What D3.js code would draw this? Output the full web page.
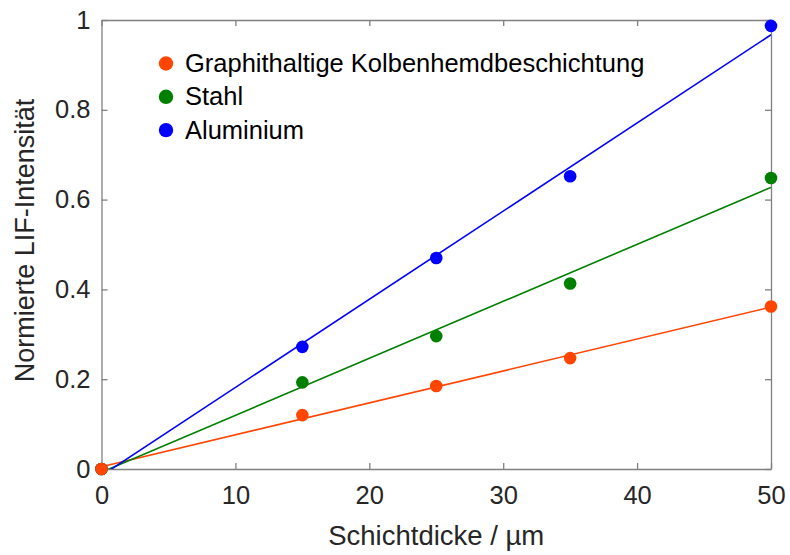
<!DOCTYPE html>
<html>
<head>
<meta charset="utf-8">
<script src="https://cdn.jsdelivr.net/npm/d3@7"></script>
<style>
  html, body { margin: 0; padding: 0; background: #fff; }
  svg { display: block; font-family: "Liberation Sans", Arial, Helvetica, sans-serif; }
</style>
</head>
<body>
<svg id="chart" width="790" height="555"></svg>
<script>
// Layer thickness (µm) and normalised LIF intensity per coating
const thickness = [0, 15, 25, 35, 50];
const graphitValues = [0, 0.120, 0.185, 0.247, 0.362];
const stahlValues = [0, 0.193, 0.296, 0.413, 0.648];
const aluminiumValues = [0, 0.272, 0.470, 0.652, 0.987];
const seriesNames = ["Graphithaltige Kolbenhemdbeschichtung", "Stahl", "Aluminium"];
const seriesColors = ["#ff4500", "#008000", "#0000ff"];
const xTicks = [0, 10, 20, 30, 40, 50];
const yTicks = [0, 0.2, 0.4, 0.6, 0.8, 1];

const series = [
  { name: seriesNames[0], color: seriesColors[0], values: graphitValues },
  { name: seriesNames[1], color: seriesColors[1], values: stahlValues },
  { name: seriesNames[2], color: seriesColors[2], values: aluminiumValues }
];

const svg = d3.select("#chart");
const plotLeft = 101.5, plotRight = 771, plotTop = 20, plotBottom = 469;

const x = d3.scaleLinear().domain([0, 50]).range([plotLeft, plotRight]);
const y = d3.scaleLinear().domain([0, 1]).range([plotBottom, plotTop]);

const axisColor = "#808080";
const textColor = "#262626";

svg.append("defs").append("clipPath").attr("id", "plot-clip")
  .append("rect").attr("x", plotLeft).attr("y", plotTop)
  .attr("width", plotRight - plotLeft).attr("height", plotBottom - plotTop);

// Axes with inward ticks, mirrored on top and right
function styleAxis(g) {
  g.selectAll(".domain").attr("stroke", axisColor).attr("stroke-width", 1.3);
  g.selectAll(".tick line").attr("stroke", axisColor).attr("stroke-width", 1.3);
  g.selectAll(".tick text").attr("fill", textColor).attr("font-size", 25.5);
}

svg.append("g").attr("transform", `translate(0,${plotBottom})`)
  .call(d3.axisBottom(x).tickValues(xTicks).tickSizeInner(-6).tickSizeOuter(0).tickPadding(17).tickFormat(d3.format("d")))
  .call(styleAxis);
svg.append("g").attr("transform", `translate(0,${plotTop})`)
  .call(d3.axisTop(x).tickValues(xTicks).tickSizeInner(-6).tickSizeOuter(0).tickFormat(""))
  .call(styleAxis);
svg.append("g").attr("transform", `translate(${plotLeft},0)`)
  .call(d3.axisLeft(y).tickValues(yTicks).tickSizeInner(-6).tickSizeOuter(0).tickPadding(11).tickFormat(d => d === 0 || d === 1 ? d3.format("d")(d) : d3.format(".1f")(d)))
  .call(styleAxis);
svg.append("g").attr("transform", `translate(${plotRight},0)`)
  .call(d3.axisRight(y).tickValues(yTicks).tickSizeInner(-6).tickSizeOuter(0).tickFormat(""))
  .call(styleAxis);

// Axis titles
svg.append("text")
  .attr("x", (plotLeft + plotRight) / 2).attr("y", 545)
  .attr("text-anchor", "middle").attr("fill", textColor).attr("font-size", 27.5)
  .text("Schichtdicke / µm");
svg.append("text")
  .attr("transform", `translate(34,${(plotTop + plotBottom) / 2 - 4}) rotate(-90)`)
  .attr("text-anchor", "middle").attr("fill", textColor).attr("font-size", 27)
  .text("Normierte LIF-Intensität");

// Least-squares line through each series
function fit(xs, ys) {
  const mx = d3.mean(xs), my = d3.mean(ys);
  const sxy = d3.sum(xs, (v, i) => (v - mx) * (ys[i] - my));
  const sxx = d3.sum(xs, v => (v - mx) * (v - mx));
  const b = sxy / sxx;
  return { a: my - b * mx, b };
}

const plot = svg.append("g").attr("clip-path", "url(#plot-clip)");
series.forEach(s => {
  const f = fit(thickness, s.values);
  const x0 = d3.min(thickness), x1 = d3.max(thickness);
  plot.append("line")
    .attr("x1", x(x0)).attr("y1", y(f.a + f.b * x0))
    .attr("x2", x(x1)).attr("y2", y(f.a + f.b * x1))
    .attr("stroke", s.color).attr("stroke-width", 1.6);
});

// Data points, drawn in reverse so the first series sits on top
const pts = svg.append("g");
series.slice().reverse().forEach(s => {
  pts.selectAll(null).data(s.values).enter().append("circle")
    .attr("cx", (d, i) => x(thickness[i]))
    .attr("cy", d => y(d))
    .attr("r", 6.3)
    .attr("fill", s.color);
});

// Legend
const legend = svg.append("g").attr("transform", "translate(166,63.5)");
series.forEach((s, i) => {
  const row = legend.append("g").attr("transform", `translate(0,${i * 33.3})`);
  row.append("circle").attr("r", 7.2).attr("fill", s.color);
  row.append("text").attr("x", 19).attr("y", 8.5)
    .attr("font-size", 25.5).attr("fill", "#000").text(s.name);
});
</script>
</body>
</html>
